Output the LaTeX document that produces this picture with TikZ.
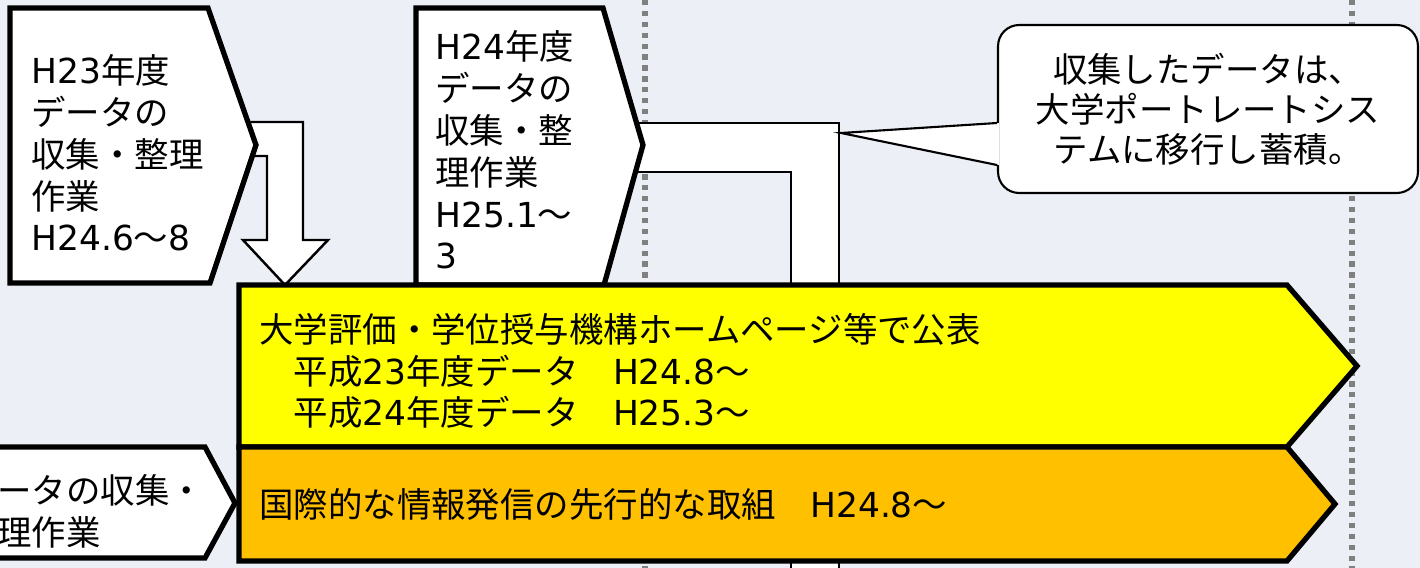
\documentclass[tikz,border=0pt]{standalone}
\usepackage{fontspec}
\newfontfamily\jpfont{Noto Sans CJK JP}
\newfontfamily\latinfont{DejaVu Sans}
\newcommand\lat[1]{{\latinfont #1}}
\usepackage{xcolor}
\usetikzlibrary{positioning, calc}
\definecolor{bgblue}{HTML}{ECF0F6}
\definecolor{dotgray}{HTML}{808080}
\definecolor{pubyellow}{HTML}{FFFF00}
\definecolor{intlorange}{HTML}{FFC000}

\begin{document}
\begin{tikzpicture}[
  x=0.02cm, y=-0.02cm,
  stage/.style = {draw, line width=3pt, fill=white, line join=miter},
  strip/.style = {draw, line width=3pt, line join=miter},
  bentarrow/.style = {draw, line width=1.4pt, fill=white, line join=miter},
  txt/.style = {font=\jpfont\fontsize{19.6}{23.8}\selectfont, align=left, inner sep=0pt, anchor=west},
  notebox/.style = {draw, line width=1.2pt, fill=white, rounded corners=12pt, minimum width=8.4cm, minimum height=3.36cm, align=center, inner sep=0pt, font=\jpfont\fontsize{19.6}{22.7}\selectfont},
  divider/.style = {dotgray, line width=3.2pt, dash pattern=on 3pt off 3.2pt}
  ]
 % Background
 \useasboundingbox (0,0) rectangle (1420,568);
 \clip (0,0) rectangle (1420,568);
 \fill[bgblue] (0,0) rectangle (1420,568);
 % Dotted dividers
 \draw[divider] (645,0) -- (645,568);
 \draw[divider] (1352,0) -- (1352,568);
 % Bent block arrows
 \draw[bentarrow] (240,122) -- (303,122) -- (303,240) -- (328,240) -- (285,285)
  -- (243,240) -- (267,240) -- (267,156) -- (240,156) -- cycle;
 \draw[bentarrow] (625,123) -- (839,123) -- (839,600) -- (791,600) -- (791,172)
  -- (625,172) -- cycle;
 \coordinate (turn) at (841,133);
 % Collection stages
 \draw[stage] (10,8) -- (208,8) -- (256,145) -- (210,283) -- (10,283) -- cycle;
 \draw[stage] (416,8) -- (603,8) -- (643,145) -- (604,285) -- (416,285) -- cycle;
 \draw[stage] (-20,447) -- (205,447) -- (235,503) -- (205,558) -- (-20,558) -- cycle;
 \node[txt] (h23) at (31,153) {\lat{H23}年度\\データの\\収集・整理\\作業\\\lat{H24.6}～\lat{8}};
 \node[txt] (h24) at (435,150) {\lat{H24}年度\\データの\\収集・整\\理作業\\\lat{H25.1}～\\\lat{3}};
 \node[txt] (prev) at (-3,511) {ータの収集・\\理作業};
 % Publication bands
 \draw[strip, fill=pubyellow] (239,285) -- (1287,285) -- (1357,366) -- (1287,447)
  -- (239,447) -- cycle;
 \draw[strip, fill=intlorange] (239,447) -- (1287,447) -- (1335,504) -- (1287,561)
  -- (239,561) -- cycle;
 \node[txt] (publish) at (259,371)
  {大学評価・学位授与機構ホームページ等で公表\\
  　平成\lat{23}年度データ　\lat{H24.8}～\\
  　平成\lat{24}年度データ　\lat{H25.3}～};
 \node[txt] (intl) at (259,504) {国際的な情報発信の先行的な取組　\lat{H24.8}～};
 % Note callout
 \node[notebox] (note) at (1208,109)
  {収集したデータは、\\
  大学ポートレートシス\\
  テムに移行し蓄積。};
 \fill[white] (turn) -- ($(note.west)+(2,14)$) -- ($(note.west)+(2,56)$) -- cycle;
 \draw[line width=1.2pt, line join=miter] ($(note.west)+(0,14)$) -- (turn) -- ($(note.west)+(0,56)$);
\end{tikzpicture}
\end{document}
